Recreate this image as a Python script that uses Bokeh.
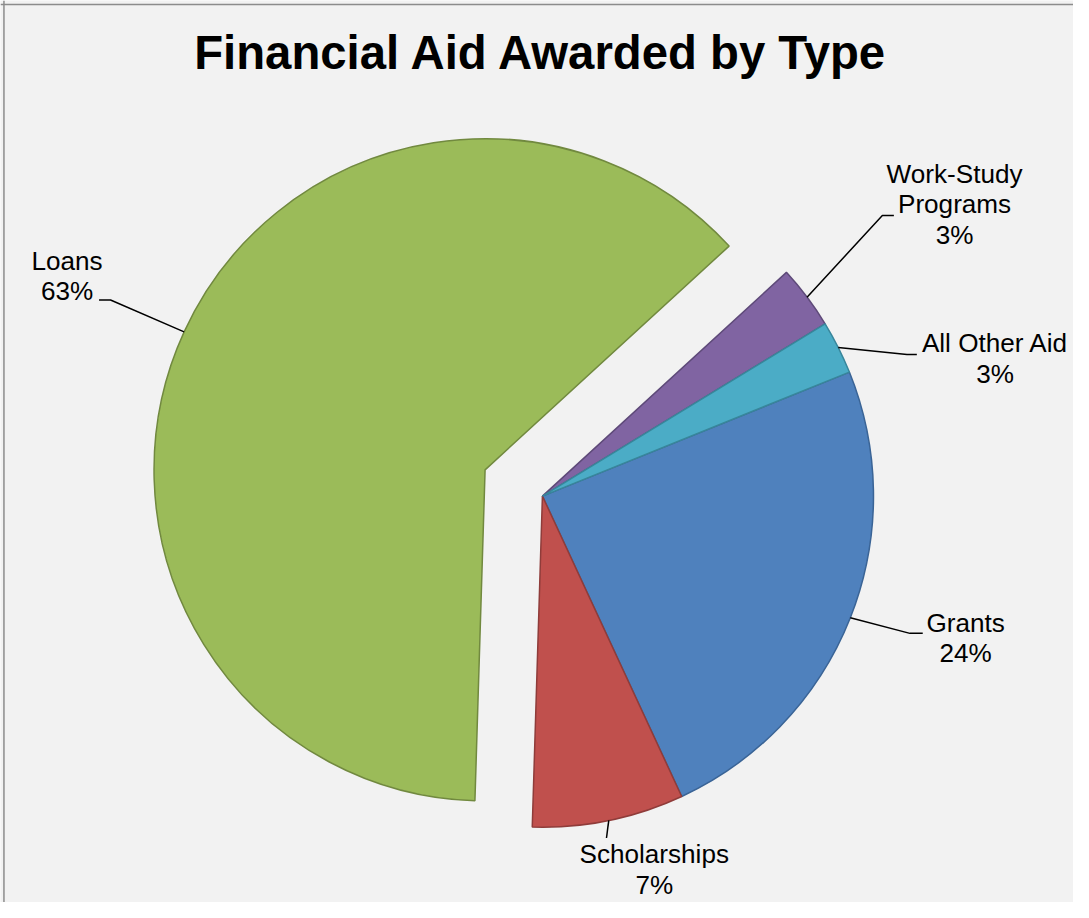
import math
from bokeh.plotting import figure
from bokeh.models import ColumnDataSource, Range1d, Label, Span
from bokeh.core.properties import value
from bokeh.embed import file_html
from bokeh.resources import INLINE

# ---------------- data ----------------
title = "Financial Aid Awarded by Type"
categories = ["Grants", "Scholarships", "Loans", "Work-Study\nPrograms", "All Other Aid"]
shares = [24.2, 7.4, 62.7, 3.1, 2.6]          # percent of total aid
exploded = [False, False, True, False, False]

# ---------------- styles ----------------
fill_colors = ["#4F81BD", "#C0504D", "#9BBB59", "#8064A2", "#4BACC6"]
line_colors = ["#3A6496", "#8F3C3A", "#71893F", "#5E4A79", "#38869B"]
FONT = "Liberation Sans"
BG = "#F2F2F2"
LABEL_SIZE = 26.5
TITLE_SIZE = 48.0
BASELINE_FIX = 0.385      # em; the renderer draws text this much below the asked baseline

# ---------------- layout ----------------
# data units are reference-image pixels (x right, y measured from the top
# of the reference and flipped), drawn into a figure that fits the window
REF_W, REF_H = 1089, 918
W, H = 1073, 902
K = REF_W / W                      # data units per screen pixel
SPAN_Y = H * K


def Y(y_ref):
    return REF_H - y_ref


def px(size):
    return f"{size / K:.2f}px"


CX, CY = 550.0, Y(503)
R = 336.0
EXPLODE = 64.0
START_DEG = 22.0          # first slice starts here, slices run clockwise
LINE_STEP = 31.0

# label centre x, first-line baseline y, leader elbow, leader end
label_layout = {
    "Grants": (979.5, 641.7, (923.0, 642.3), (936.0, 642.3)),
    "Scholarships": (663.5, 876.5, (615.0, 850.0), (615.0, 850.0)),
    "Loans": (67.5, 274.3, (111.7, 304.0), (100.0, 304.0)),
    "Work-Study\nPrograms": (968.3, 186.0, (895.0, 218.3), (906.7, 218.3)),
    "All Other Aid": (1009.5, 358.3, (920.0, 359.3), (930.0, 359.3)),
}

total = sum(shares)
wx, wy, sa, ea = [], [], [], []
lead_xs, lead_ys = [], []
tx, ty, tt = [], [], []
cum = 0.0
for cat, v, ex in zip(categories, shares, exploded):
    a0 = START_DEG - 360.0 * cum / total
    cum += v
    a1 = START_DEG - 360.0 * cum / total
    mid = math.radians((a0 + a1) / 2.0)
    ox = EXPLODE * math.cos(mid) if ex else 0.0
    oy = EXPLODE * math.sin(mid) if ex else 0.0
    cx, cy = CX + ox, CY + oy
    wx.append(cx)
    wy.append(cy)
    sa.append(math.radians(a1))
    ea.append(math.radians(a0))
    # leader line from the arc midpoint
    ax, ay = cx + R * math.cos(mid), cy + R * math.sin(mid)
    lx, lb, elbow, end = label_layout[cat]
    lead_xs.append([ax, elbow[0], end[0]])
    lead_ys.append([ay, Y(elbow[1]), Y(end[1])])
    lines = cat.split("\n") + [f"{round(v)}%"]
    for i, line in enumerate(lines):
        tx.append(lx)
        ty.append(Y(lb + i * LINE_STEP - BASELINE_FIX * LABEL_SIZE))
        tt.append(line)

p = figure(width=W, height=H, output_backend="svg", toolbar_location=None,
           x_range=Range1d(0, REF_W), y_range=Range1d(REF_H - SPAN_Y, REF_H),
           min_border=0, tools="")
p.axis.visible = False
p.xgrid.visible = False
p.ygrid.visible = False
p.outline_line_color = None
p.background_fill_color = BG
p.border_fill_color = BG

wedge_src = ColumnDataSource(dict(x=wx, y=wy, start=sa, end=ea,
                                  fill=fill_colors, line=line_colors))
p.wedge(x="x", y="y", radius=R, start_angle="start", end_angle="end",
        fill_color="fill", line_color="line", line_width=1.5, source=wedge_src)

p.multi_line(xs=lead_xs, ys=lead_ys, line_color="black", line_width=1.5)

p.text(x=tx, y=ty, text=tt, text_font=value(FONT), text_font_size=px(LABEL_SIZE),
       text_align="center", text_baseline="alphabetic", text_color="black")

p.add_layout(Label(x=549, y=Y(71 - BASELINE_FIX * TITLE_SIZE), text=title, text_font=FONT,
                   text_font_size=px(TITLE_SIZE), text_font_style="bold",
                   text_align="center", text_baseline="alphabetic",
                   text_color="black"))

p.add_layout(Span(location=Y(4), dimension="width", line_color="#8C8C8C", line_width=1.5))
p.add_layout(Span(location=3.5, dimension="height", line_color="#8C8C8C", line_width=1.5))

open("out.html", "w").write(file_html(p, INLINE))
